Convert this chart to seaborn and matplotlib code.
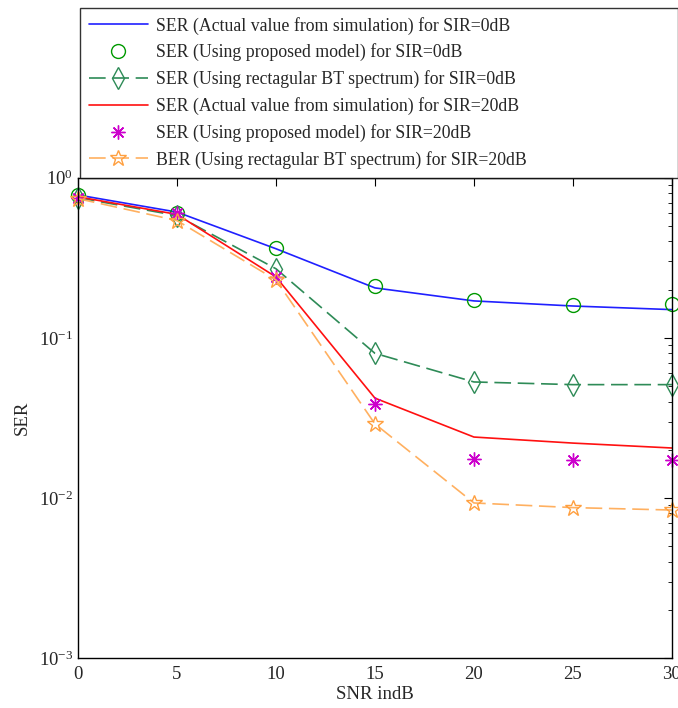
import numpy as np
import pandas as pd
import matplotlib
matplotlib.use('Agg')
import matplotlib.pyplot as plt
import seaborn as sns

snr = [0, 5, 10, 15, 20, 25, 30]

# SIR = 0 dB
ser_sim_0 = [0.78, 0.61, 0.36, 0.205, 0.17, 0.158, 0.15]
ser_model_0 = [0.78, 0.60, 0.365, 0.21, 0.173, 0.161, 0.163]
ser_rect_0 = [0.75, 0.58, 0.27, 0.080, 0.053, 0.051, 0.051]

# SIR = 20 dB
ser_sim_20 = [0.76, 0.59, 0.24, 0.042, 0.024, 0.022, 0.0205]
ser_model_20 = [0.75, 0.60, 0.24, 0.0387, 0.0175, 0.0172, 0.0172]
ber_rect_20 = [0.74, 0.54, 0.23, 0.029, 0.0093, 0.0087, 0.0084]

labels = ['SER (Actual value from simulation) for SIR=0dB',
          'SER (Using proposed model) for SIR=0dB',
          'SER (Using rectagular BT spectrum) for SIR=0dB',
          'SER (Actual value from simulation) for SIR=20dB',
          'SER (Using proposed model) for SIR=20dB',
          'BER (Using rectagular BT spectrum) for SIR=20dB']

sns.set_theme(style='white')
plt.rcParams['font.family'] = ['Liberation Serif', 'DejaVu Serif']
plt.rcParams['mathtext.fontset'] = 'custom'
plt.rcParams['mathtext.rm'] = 'Liberation Serif'
plt.rcParams['mathtext.it'] = 'Liberation Serif:italic'

fig = plt.figure(figsize=(6.78, 7.08), dpi=100)
ax = fig.add_axes([0.115, 0.0706, 0.876, 0.6784])

dash = (0, (10, 4))
sns.lineplot(x=snr, y=ser_sim_0, ax=ax, color='#2020ff', lw=1.2, label=labels[0])
sns.lineplot(x=snr, y=ser_model_0, ax=ax, color='#009900', linestyle='none',
             marker='o', markersize=10, mfc='none', mec='#009900', mew=1.0,
             clip_on=False, label=labels[1])
sns.lineplot(x=snr, y=ser_rect_0, ax=ax, color='#2e8b57', lw=1.2, linestyle=dash,
             marker='d', markersize=11, mfc='none', mec='#2e8b57', mew=1.0,
             clip_on=False, label=labels[2])
sns.lineplot(x=snr, y=ser_sim_20, ax=ax, color='#ff1010', lw=1.2, label=labels[3])
sns.lineplot(x=snr, y=ser_model_20, ax=ax, color='#cc00cc', linestyle='none',
             marker=(8, 2, 0), markersize=10, mec='#cc00cc', mew=1.0,
             clip_on=False, label=labels[4])
sns.lineplot(x=snr, y=ber_rect_20, ax=ax, color='#ffb060', lw=1.2, linestyle=dash,
             marker='*', markersize=12, mfc='none', mec='#ffa040', mew=1.0,
             clip_on=False, label=labels[5])

ax.set_yscale('log')
ax.set_ylim(1e-3, 1)
ax.set_xlim(0, 30)
ax.set_xticks(snr)
ax.set_xlabel('SNR indB', fontsize=13.5, labelpad=2)
ax.set_ylabel('SER', fontsize=13.5, labelpad=6)
ax.tick_params(axis='both', which='both', direction='in', top=True, right=True,
               labelsize=13.5, color='black')
ax.tick_params(which='major', length=6, width=0.8)
ax.tick_params(which='minor', length=3, width=0.6)
ax.tick_params(axis='x', pad=6)
for s in ax.spines.values():
    s.set_color('black')
    s.set_linewidth(1.0)

handles, labs = ax.get_legend_handles_labels()
ax.get_legend().remove()
leg = fig.legend(handles, labs, loc='upper left', mode='expand',
                 bbox_to_anchor=(0.118, 0.749, 0.882, 0.24),
                 fontsize=12.8, frameon=True, fancybox=False, edgecolor='black',
                 handlelength=3.3, handletextpad=0.5, labelspacing=0.5,
                 borderpad=0.5, borderaxespad=0)
leg.get_frame().set_linewidth(1.0)

fig.savefig('out.png', dpi=100, facecolor='white')
